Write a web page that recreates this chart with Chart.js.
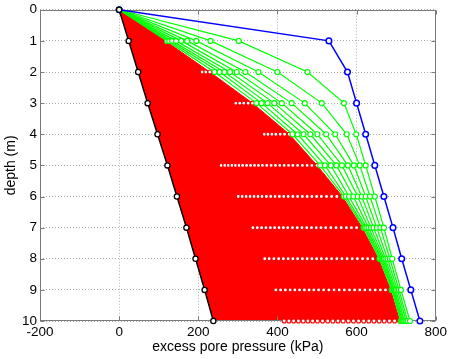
<!DOCTYPE html>
<html><head><meta charset="utf-8">
<script src="https://cdn.jsdelivr.net/npm/chart.js@4.4.1/dist/chart.umd.min.js"></script>
<style>html,body{margin:0;padding:0;background:#fff;}#wrap{width:452px;height:359px;}</style>
</head><body><div id="wrap"><canvas id="c" width="452" height="359"></canvas></div>
<script>
// ---- data ----
const depths = [0, 1, 2, 3, 4, 5, 6, 7, 8, 9, 10];
const xTickValues = [-200, 0, 200, 400, 600, 800];
const yTickValues = [0, 1, 2, 3, 4, 5, 6, 7, 8, 9, 10];

const blueProfile  = [0, 530, 577, 600, 623, 646, 669, 692, 714, 737, 760];
const blackProfile = [0, 24, 48, 72, 97, 122, 146, 170, 193, 216, 238];

// green profiles: values at each depth (profile 1 .. 9)
const greenD1  = [302, 231, 195, 172, 157, 144, 134, 127, 121];
const greenD2  = [476, 400, 352, 319, 297, 280, 266, 254, 241];
const greenD3  = [568, 512, 469, 436, 411, 392, 375, 360, 347];
const greenD4  = [599, 575, 546, 523, 501, 483, 466, 451, 438];
const greenD5  = [623, 608, 593, 578, 563, 549, 535, 520, 508];
const greenD6  = [646, 634, 623, 613, 603, 592, 581, 573, 568];
const greenD7  = [669, 660, 651, 643, 636, 630, 625, 621, 618];
const greenD8  = [690, 684, 678, 673, 669, 666, 663, 660, 658];
const greenD9  = [712, 707, 703, 699, 696, 694, 692, 690, 689];
const greenD10 = [735, 729, 725, 721, 718, 716, 714, 713, 712];

// red profiles: values at each depth (first = outermost red profile)
const redD1  = [117, 111, 105, 99, 93, 88, 83, 78, 73, 69, 65, 61, 57, 54, 51, 48, 45, 42, 40, 38, 36, 34, 32, 30];
const redD2  = [229, 219, 210, 201, 193, 186, 179, 172, 166, 160, 154, 148, 142, 136, 130, 124, 118, 112, 106, 100, 94, 88, 82, 76];
const redD3  = [337, 326, 315, 305, 295, 286, 278, 270, 262, 254, 246, 238, 230, 222, 214, 206, 198, 190, 182, 175, 168, 161, 154, 147];
const redD4  = [430, 418, 407, 396, 386, 376, 367, 358, 350, 342, 334, 326, 318, 310, 302, 294, 286, 278, 270, 262, 254, 246, 238, 230];
const redD5  = [500, 487, 475, 463, 451, 439, 428, 417, 406, 395, 384, 373, 362, 352, 342, 332, 322, 312, 303, 294, 285, 276, 267, 258];
const redD6  = [564, 550, 537, 524, 511, 499, 487, 475, 463, 451, 439, 427, 416, 405, 394, 383, 372, 361, 351, 341, 331, 321, 311, 301];
const redD7  = [614, 600, 587, 574, 561, 548, 535, 522, 510, 498, 486, 474, 462, 450, 438, 426, 415, 404, 393, 382, 371, 360, 349, 338];
const redD8  = [655, 641, 628, 615, 602, 589, 576, 563, 550, 537, 524, 511, 499, 487, 475, 463, 451, 439, 427, 415, 403, 391, 379, 368];
const redD9  = [686, 673, 660, 647, 634, 621, 608, 595, 582, 569, 556, 543, 530, 517, 504, 492, 480, 468, 456, 444, 432, 420, 408, 396];
const redD10 = [709, 696, 683, 670, 657, 644, 631, 618, 605, 592, 579, 566, 553, 540, 527, 514, 501, 489, 477, 465, 453, 441, 429, 417];

// ---- build profile tables from the arrays ----
const greenByDepth = [greenD1, greenD2, greenD3, greenD4, greenD5, greenD6, greenD7, greenD8, greenD9, greenD10];
const redByDepth = [redD1, redD2, redD3, redD4, redD5, redD6, redD7, redD8, redD9, redD10];
function profilesFrom(byDepth) {
  const n = byDepth[0].length, out = [];
  for (let k = 0; k < n; k++) out.push([0].concat(byDepth.map(row => row[k])));
  return out;
}
const greenProfiles = profilesFrom(greenByDepth);
const redProfiles = profilesFrom(redByDepth);
const toPoints = vals => depths.map((d, i) => ({x: vals[i], y: d}));

const FONT = '"Liberation Sans", Arial, Helvetica, sans-serif';

function redHole(ctx) {
  const k = ctx.dataset && ctx.dataset.profile;
  const i = ctx.dataIndex;
  if (k === undefined || i === undefined) return 'rgba(255,0,0,0)';
  const v = redProfiles[k][i];
  let gap = Infinity;
  if (k > 0) gap = Math.min(gap, Math.abs(v - redProfiles[k - 1][i]));
  if (k < redProfiles.length - 1) gap = Math.min(gap, Math.abs(v - redProfiles[k + 1][i]));
  const xs = ctx.chart.scales.x;
  const ppu = xs ? Math.abs(xs.getPixelForValue(1) - xs.getPixelForValue(0)) : 0.397;
  return gap * ppu >= 3.5 ? '#ffffff' : 'rgba(255,0,0,0)';
}

const datasets = [];
datasets.push({label: 'final', data: toPoints(blackProfile), borderColor: '#000', borderWidth: 1.5,
  pointRadius: 2.6, pointBorderWidth: 1.3, pointBackgroundColor: '#fff', pointBorderColor: '#000', fill: false, clip: false});
datasets.push({label: 'initial', data: toPoints(blueProfile), borderColor: '#0000ff', borderWidth: 1.5,
  pointRadius: 2.8, pointBorderWidth: 1.5, pointBackgroundColor: '#fff', pointBorderColor: '#0000ff', fill: false, clip: false});
greenProfiles.forEach((p, k) => datasets.push({label: 'g' + k, data: toPoints(p), borderColor: '#00ff00', borderWidth: 1.2,
  pointRadius: 2.5, pointBorderWidth: 1.2, pointBackgroundColor: '#fff', pointBorderColor: '#00ff00', fill: false, clip: false}));
redProfiles.forEach((p, k) => datasets.push({label: 'r' + k, profile: k, data: toPoints(p), borderColor: '#ff0000', borderWidth: 1,
  pointRadius: 2, pointBorderWidth: 1.1, pointBackgroundColor: redHole, pointBorderColor: '#ff0000',
  backgroundColor: '#ff0000', fill: k === 0 ? 0 : false, clip: false}));

const framePlugin = {
  id: 'frame',
  beforeDatasetsDraw(chart) {
    const {ctx, chartArea: a, scales: {x, y}} = chart;
    ctx.save();
    ctx.strokeStyle = '#7a7a7a';
    ctx.lineWidth = 1;
    const L = Math.round(a.left) + 0.5, R = Math.round(a.right) - 0.5, T = Math.round(a.top) + 0.5, B = Math.round(a.bottom) - 0.5;
    ctx.strokeRect(L, T, R - L, B - T);
    ctx.beginPath();
    xTickValues.forEach(v => { const p = Math.round(x.getPixelForValue(v)) + 0.5;
      ctx.moveTo(p, B); ctx.lineTo(p, B - 4); ctx.moveTo(p, T); ctx.lineTo(p, T + 4); });
    yTickValues.forEach(v => { const p = Math.round(y.getPixelForValue(v)) + 0.5;
      ctx.moveTo(L, p); ctx.lineTo(L + 4, p); ctx.moveTo(R, p); ctx.lineTo(R - 4, p); });
    ctx.stroke();
    ctx.restore();
  }
};

new Chart(document.getElementById('c'), {
  type: 'line',
  data: {datasets},
  options: {
    responsive: false, animation: false, indexAxis: 'y',
    elements: {line: {tension: 0}},
    layout: {padding: {top: 7, right: 15, left: 0, bottom: 0}},
    plugins: {legend: {display: false}, tooltip: {enabled: false}, filler: {drawTime: 'beforeDatasetsDraw'}},
    scales: {
      x: {type: 'linear', position: 'bottom', min: -200, max: 800,
        afterBuildTicks: s => { s.ticks = xTickValues.map(v => ({value: v})); },
        ticks: {font: {family: FONT, size: 13.5, lineHeight: 1}, color: '#000', padding: 5, maxRotation: 0, autoSkip: false},
        grid: {color: 'rgba(0,0,0,0.32)', drawTicks: false, lineWidth: 1},
        border: {display: false, dash: [1, 2]},
        title: {display: true, text: 'excess pore pressure (kPa)', color: '#000', font: {family: FONT, size: 14}, padding: 3},
        afterFit: s => { s.height = 38; }},
      y: {type: 'linear', position: 'left', reverse: true, min: 0, max: 10,
        afterBuildTicks: s => { s.ticks = yTickValues.map(v => ({value: v})); },
        ticks: {font: {family: FONT, size: 13.5, lineHeight: 1}, color: '#000', padding: 3, autoSkip: false},
        grid: {color: 'rgba(0,0,0,0.32)', drawTicks: false, lineWidth: 1},
        border: {display: false, dash: [1, 2]},
        title: {display: true, text: 'depth (m)', color: '#000', font: {family: FONT, size: 14}, padding: 3},
        afterFit: s => { s.width = 40; }}
    }
  },
  plugins: [framePlugin]
});
</script></body></html>
